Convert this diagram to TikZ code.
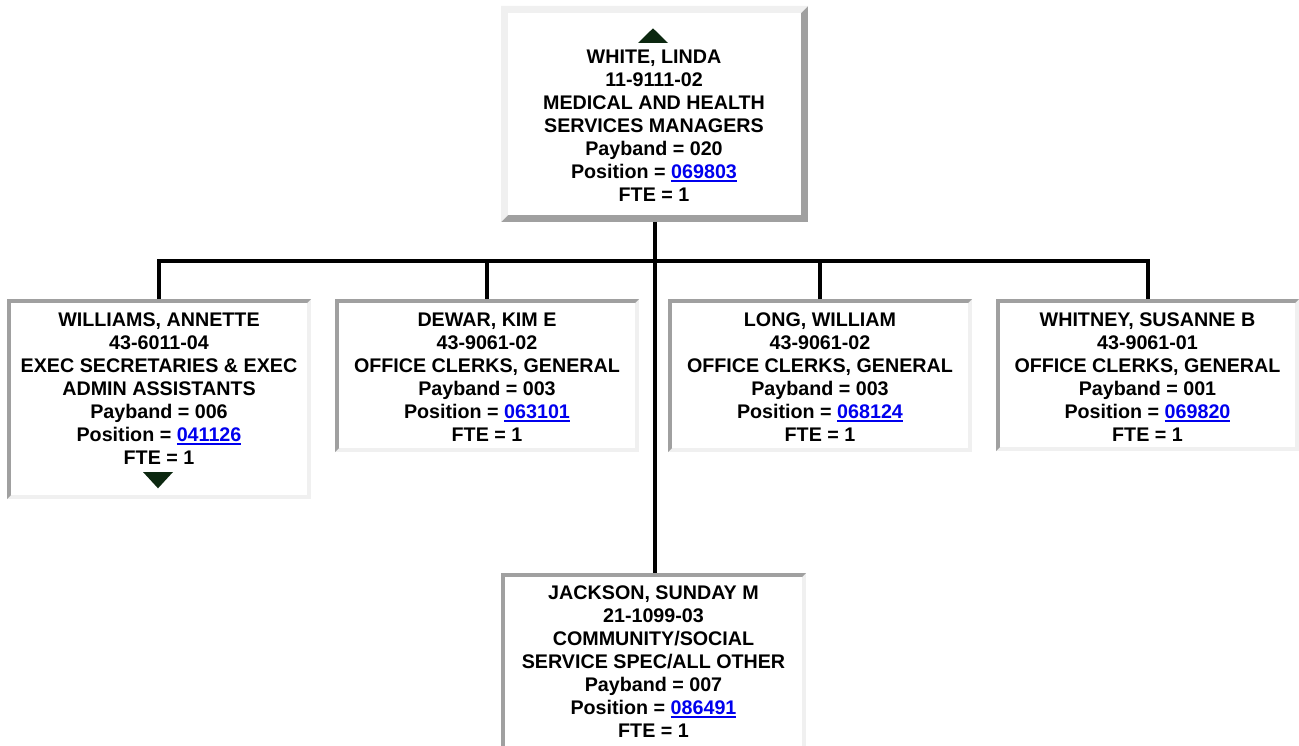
\documentclass[tikz,border=0pt]{standalone}
\usepackage{fontspec}
\setmainfont{Liberation Sans}
\definecolor{bdark}{RGB}{160,160,160}
\definecolor{blight}{RGB}{240,240,240}
\definecolor{linkblue}{RGB}{0,0,238}
\definecolor{arrowgreen}{RGB}{12,40,16}
\newcommand\lstrut{\rule{0pt}{17pt}}
\newcommand\lnk[1]{{\color{linkblue}\setbox0\hbox{#1}\rlap{\rule[-3.7pt]{\wd0}{2.2pt}}\box0}}
\tikzset{
  bevel/.style n args={3}{rectangle, inner sep=0pt, outer sep=0pt, fill=#3, anchor=north west,
    path picture={
      \fill[#2] (path picture bounding box.north west) -- (path picture bounding box.north east)
        -- ([xshift=-#1,yshift=-#1]path picture bounding box.north east)
        -- ([xshift=#1,yshift=-#1]path picture bounding box.north west)
        -- ([xshift=#1,yshift=#1]path picture bounding box.south west)
        -- (path picture bounding box.south west) -- cycle;
      \fill[white] ([xshift=#1,yshift=-#1]path picture bounding box.north west)
        rectangle ([xshift=-#1,yshift=#1]path picture bounding box.south east);
    }},
  outsetbox/.style={bevel={7pt}{blight}{bdark}},
  insetbox/.style={bevel={4pt}{bdark}{blight}},
  conn/.style={line width=4pt, black, line join=miter},
  txt/.style={align=center, inner sep=0pt, anchor=north, font=\fontsize{19.7}{23}\selectfont\bfseries},
  tri/.style={fill=arrowgreen},
}
\begin{document}
\begin{tikzpicture}[x=1pt,y=-1pt]
\useasboundingbox[fill=white] (0,0) rectangle (1299,746);
\coordinate (bus) at (654.5,261);
% boxes (shapes only)
\path (501,6) node[outsetbox, minimum width=307pt, minimum height=216pt] (top) {};
\path (7,299) node[insetbox, minimum width=304pt, minimum height=200pt] (will) {};
\path (335,299) node[insetbox, minimum width=304pt, minimum height=153pt] (dew) {};
\path (668,299) node[insetbox, minimum width=304pt, minimum height=153pt] (long) {};
\path (996,299) node[insetbox, minimum width=303pt, minimum height=152pt] (whit) {};
\path (501,573) node[insetbox, minimum width=305pt, minimum height=185pt] (jack) {};
% connectors
\draw[conn] (top.south) -- (top.south |- jack.north);
\draw[conn] (will.north) |- (bus) -| (whit.north);
\draw[conn] (dew.north) -- (dew.north |- bus);
\draw[conn] (long.north) -- (long.north |- bus);
% triangles
\fill[tri] (638,43) -- (668,43) -- (653,28.3) -- cycle;
\fill[tri] (143,472) -- (173,472) -- (158,488.3) -- cycle;
% texts
\node[txt] (ttop) at (654,46.5) {\lstrut WHITE, LINDA\\11-9111-02\\MEDICAL AND HEALTH\\SERVICES MANAGERS\\Payband = 020\\Position = \lnk{069803}\\FTE = 1};
\node[txt] (twill) at (159,309.5) {\lstrut WILLIAMS, ANNETTE\\43-6011-04\\EXEC SECRETARIES \& EXEC\\ADMIN ASSISTANTS\\Payband = 006\\Position = \lnk{041126}\\FTE = 1};
\node[txt] (tdew) at (487,309.5) {\lstrut DEWAR, KIM E\\43-9061-02\\OFFICE CLERKS, GENERAL\\Payband = 003\\Position = \lnk{063101}\\FTE = 1};
\node[txt] (tlong) at (820,309.5) {\lstrut LONG, WILLIAM\\43-9061-02\\OFFICE CLERKS, GENERAL\\Payband = 003\\Position = \lnk{068124}\\FTE = 1};
\node[txt] (twhit) at (1147.5,309.5) {\lstrut WHITNEY, SUSANNE B\\43-9061-01\\OFFICE CLERKS, GENERAL\\Payband = 001\\Position = \lnk{069820}\\FTE = 1};
\node[txt] (tjack) at (653.5,582.5) {\lstrut JACKSON, SUNDAY M\\21-1099-03\\COMMUNITY/SOCIAL\\SERVICE SPEC/ALL OTHER\\Payband = 007\\Position = \lnk{086491}\\FTE = 1};
\end{tikzpicture}
\end{document}
